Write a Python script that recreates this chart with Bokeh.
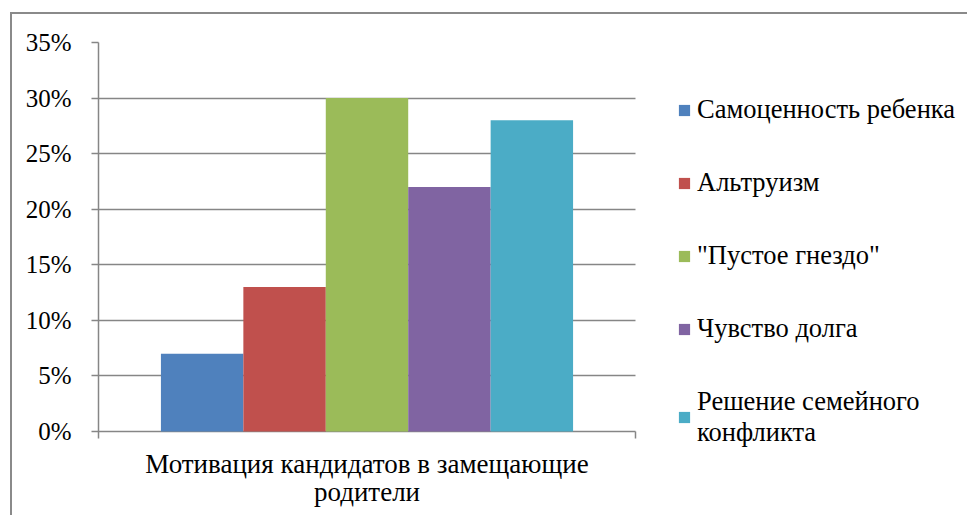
from bokeh.plotting import figure
from bokeh.models import (Range1d, LinearAxis, FixedTicker,
                          NumeralTickFormatter, Legend, LegendItem)
from bokeh.embed import file_html
from bokeh.resources import INLINE

categories = ["Мотивация кандидатов в замещающие\nродители"]
series = ["Самоценность ребенка", "Альтруизм", "\"Пустое гнездо\"", "Чувство долга",
          "Решение семейного\nконфликта"]
values = [0.07, 0.13, 0.30, 0.22, 0.28]
colors = ["#4F81BD", "#C0504D", "#9BBB59", "#8064A2", "#4BACC6"]
y_ticks = [0, 0.05, 0.10, 0.15, 0.20, 0.25, 0.30, 0.35]

FONT = "Liberation Serif, Times New Roman, serif"
GRAY = "#868686"

W, H = 957, 503
LEFT, TOP = 86, 28
PLOT_H = 389            # pixel height of 0..35 %
FRAME_H = 408           # frame reaches a little below the 0 % line (room for the legend)
CAT_PX = 537            # pixel width of the category band
TICK_PX = 7
FRAME_W = W - LEFT
n_cat = len(categories)
y_max = y_ticks[-1]
y_min = -y_max * (FRAME_H - PLOT_H) / PLOT_H
tick_d = y_max * TICK_PX / PLOT_H

p = figure(width=W, height=H, output_backend="svg", toolbar_location=None,
           x_range=Range1d(0, n_cat * FRAME_W / CAT_PX), y_range=Range1d(y_min, y_max),
           x_axis_location=None,
           min_border_left=LEFT, min_border_top=TOP, min_border_right=0,
           min_border_bottom=H - TOP - FRAME_H)
p.styles = {"border-top": "2px solid #8a8a8a", "border-left": "2px solid #8a8a8a",
            "margin-top": "12px", "margin-left": "10px"}
p.outline_line_color = None
p.xgrid.grid_line_color = None
p.ygrid.grid_line_color = GRAY
p.ygrid.grid_line_width = 1.3
p.ygrid.ticker = FixedTicker(ticks=y_ticks)
p.ygrid.cross_bounds = (0, n_cat)

ya = p.yaxis[0]
ya.ticker = FixedTicker(ticks=y_ticks)
ya.bounds = (-tick_d, y_max)
ya.formatter = NumeralTickFormatter(format="0%")
ya.axis_line_color = GRAY
ya.axis_line_width = 1.5
ya.major_tick_line_color = GRAY
ya.major_tick_line_width = 1.3
ya.major_tick_out = TICK_PX
ya.major_tick_in = 0
ya.minor_tick_line_color = None
ya.major_label_text_font = FONT
ya.major_label_text_font_size = "25px"
ya.major_label_text_color = "black"
ya.major_label_standoff = 20

# tick marks at the right edge of each category band
p.segment(x0=[k + 1 for k in range(n_cat)], x1=[k + 1 for k in range(n_cat)],
          y0=[0] * n_cat, y1=[-tick_d] * n_cat, line_color=GRAY, line_width=1.5)

centers = [k + 0.5 for k in range(n_cat)]
cax = LinearAxis(ticker=FixedTicker(ticks=centers),
                 major_label_overrides={c: lab for c, lab in zip(centers, categories)},
                 axis_line_color=None, major_tick_line_color=None, major_tick_out=0,
                 major_tick_in=0, minor_tick_line_color=None, major_label_standoff=-2,
                 major_label_text_font=FONT, major_label_text_font_size="27px",
                 major_label_text_color="black", major_label_text_line_height=0.95)
p.add_layout(cax, "below")

w = 0.1535
items = []
n = len(series)
for i, (s, v, c) in enumerate(zip(series, values, colors)):
    xs = [k + 0.5 + (i - (n - 1) / 2) * w for k in range(n_cat)]
    r = p.vbar(x=xs, top=[v], bottom=0, width=w, fill_color=c, line_color=None)
    items.append(LegendItem(label=s, renderers=[r]))

legend = Legend(items=items, location=(579, 2), margin=0, padding=0,
                glyph_width=14, glyph_height=14, label_standoff=6, spacing=42,
                label_text_font=FONT, label_text_font_size="26.5px", label_text_color="black",
                border_line_color=None, background_fill_alpha=0)
p.add_layout(legend, "center")

open("out.html", "w").write(file_html(p, INLINE))
